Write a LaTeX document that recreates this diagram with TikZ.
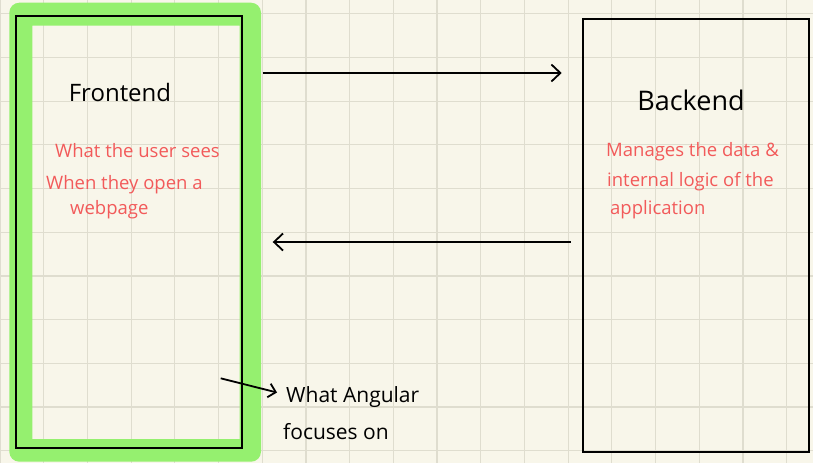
\documentclass[tikz,border=0pt]{standalone}
\usepackage{fontspec}
\setmainfont{Open Sans}
\usepackage{tkz-euclide}
\usetikzlibrary{arrows.meta,calc}
\definecolor{paper}{HTML}{F8F6EA}
\definecolor{gridc}{HTML}{DFDDCF}
\definecolor{marker}{HTML}{95F06F}
\definecolor{pen}{HTML}{F25A5A}
\tikzset{
  gridline/.style={gridc,line width=1.2pt},
  box/.style={draw=black,line width=2.3pt},
  title/.style={black,font=\fontsize{24}{28}\selectfont},
  note/.style={pen,anchor=west,inner sep=0pt,font=\fontsize{18.5}{22}\selectfont},
  side/.style={black,anchor=west,inner sep=0pt,font=\fontsize{21}{25}\selectfont},
  barb/.style={black,line width=1.8pt,-{Straight Barb[length=9pt,width=17pt]}}
}

\begin{document}
\begin{tikzpicture}[x=1pt,y=-1pt]

\useasboundingbox (0,0) rectangle (813,463);
\fill[paper] (0,0) rectangle (813,463);
\foreach \i in {0,...,18} \draw[gridline] (\i*43.7,0) -- (\i*43.7,463);
\foreach \j in {0,...,10} \draw[gridline] (0,13.7+\j*43.7) -- (813,13.7+\j*43.7);

\fill[marker,even odd rule,rounded corners=10pt] (9.3,2.7) rectangle (261,461.7)
  [sharp corners] (32.3,25.7) rectangle (239.5,439);

\draw[box] (15.7,15.7) rectangle (242,448);
\draw[box,line width=2.1pt] (582.7,19) rectangle (809,451.7);

\tkzDefPoints{262.7/73/A,561.7/73/B,570.7/242/C,272.7/242/D,220.7/378.3/E,277/392.5/F}

\draw[barb] (A) -- (B);
\draw[barb] (C) -- (D);
\draw[barb,-{Straight Barb[length=7pt,width=14pt]}] (E) -- (F);

\node[title] (front) at (120,92) {Frontend};
\node[title,font=\fontsize{27}{31}\selectfont] (back) at (691,100) {Backend};

\node[note] (f1) at (55,151) {What the user sees};
\node[note] (f2) at (46,185) {When they open a};
\node[note] (f3) at (70,210) {webpage};

\node[note] (b1) at (606,152) {Manages the data \&};
\node[note] (b2) at (607,182) {internal logic of the};
\node[note] (b3) at (610,210) {application};

\node[side] (ang1) at (286,397) {What Angular};
\node[side] (ang2) at (283,432) {focuses on};

\end{tikzpicture}
\end{document}
